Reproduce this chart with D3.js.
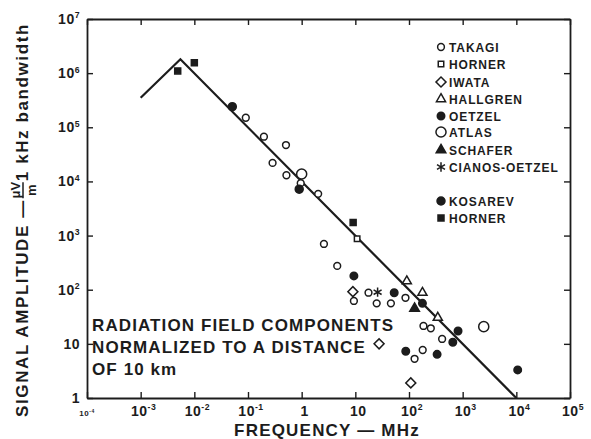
<!DOCTYPE html>
<html>
<head>
<meta charset="utf-8">
<script src="https://cdn.jsdelivr.net/npm/d3@7"></script>
<style>
  body { margin: 0; background: #fff; }
  text { font-family: "Liberation Sans", Arial, sans-serif; font-weight: bold; fill: #1c1c1c; }
</style>
</head>
<body>
<div id="chart"></div>
<script>
// frequency (MHz), amplitude (uV/m per 1 kHz)
var takagi = [[0.091,1.5e5],[0.198,6.7e4],[0.51,4.7e4],[0.287,2.2e4],[0.52,1.3e4],[0.96,9.3e3],
  [2.03,5.9e3],[2.6,700],[4.6,275],[9.4,62],[17.6,88],[25,56],[46,56],[86,71],[186,21.4],
  [255,19.4],[414,12.3],[180,7.7],[127,5.3]];
var hornerOpen = [[10.8,870]];
var iwata = [[9,92],[27.7,10],[108,1.9]];
var hallgren = [[91,144],[178,88],[344,30.5]];
var oetzel = [[9.4,180],[53,88],[178,56],[820,17.3],[655,10.7],[87,7.3],[334,6.4],[1.06e4,3.3]];
var atlas = [[1,1.37e4],[2470,20.8]];
var schafer = [[127,45]];
var cianos = [[26,90]];
var kosarev = [[0.051,2.4e5],[0.9,7.2e3]];
var hornerFilled = [[4.9e-3,1.1e6],[1e-2,1.55e6],[9.1,1.74e3]];

// normalized envelope line
var envelope = [[1e-3,3.5e5],[5.5e-3,1.8e6],[1e4,1]];

var xTicks = [1e-4,1e-3,1e-2,1e-1,1,10,1e2,1e3,1e4,1e5];
var xTickLabels = [["10","-4"],["10","-3"],["10","-2"],["10","-1"],["1",""],["10",""],["10","2"],["10","3"],["10","4"],["10","5"]];
var yTicks = [1,10,1e2,1e3,1e4,1e5,1e6,1e7];
var yTickLabels = [["1",""],["10",""],["10","2"],["10","3"],["10","4"],["10","5"],["10","6"],["10","7"]];

var legendNames = ["TAKAGI","HORNER","IWATA","HALLGREN","OETZEL","ATLAS","SCHAFER","CIANOS-OETZEL","KOSAREV","HORNER"];

var ink = "#1c1c1c";
var svgWidth = 591, svgHeight = 439;
var svg = d3.select("#chart").append("svg").attr("width", svgWidth).attr("height", svgHeight);

var plotLeft = 87, plotRight = 570, plotTop = 19, plotBottom = 398;
var x = d3.scaleLog().domain([1e-4, 1e5]).range([plotLeft, plotRight]);
var y = d3.scaleLog().domain([1, 1e7]).range([plotBottom, plotTop]);

// frame with inward ticks on every side
function axisStyle(g) {
  g.select(".domain").attr("stroke", ink).attr("stroke-width", 1.8);
  g.selectAll(".tick line").attr("stroke", ink).attr("stroke-width", 1.4);
}
svg.append("g").attr("transform", `translate(0,${plotBottom})`)
  .call(d3.axisBottom(x).tickValues(xTicks).tickFormat("").tickSizeInner(-6).tickSizeOuter(0)).call(axisStyle);
svg.append("g").attr("transform", `translate(0,${plotTop})`)
  .call(d3.axisTop(x).tickValues(xTicks).tickFormat("").tickSizeInner(-6).tickSizeOuter(0)).call(axisStyle);
svg.append("g").attr("transform", `translate(${plotLeft},0)`)
  .call(d3.axisLeft(y).tickValues(yTicks).tickFormat("").tickSizeInner(-6).tickSizeOuter(0)).call(axisStyle);
svg.append("g").attr("transform", `translate(${plotRight},0)`)
  .call(d3.axisRight(y).tickValues(yTicks).tickFormat("").tickSizeInner(-6).tickSizeOuter(0)).call(axisStyle);

// tick labels with superscripts
function addLabel(t, lab, size) {
  t.append("tspan").text(lab[0]).style("font-size", size + "px");
  if (lab[1]) t.append("tspan").text(lab[1]).attr("dy", -size * 0.4).style("font-size", (size * 0.62) + "px");
}
xTicks.forEach(function(v, i) {
  var t = svg.append("text").attr("x", x(v) + (i == 0 ? 0 : 3)).attr("y", 416).attr("text-anchor", "middle")
    .style("letter-spacing", "0.5px");
  addLabel(t, xTickLabels[i], i == 0 ? 8 : 14);
});
yTicks.forEach(function(v, i) {
  var t = svg.append("text").attr("x", 80).attr("y", y(v) + 5).attr("text-anchor", "end")
    .style("letter-spacing", "0.5px");
  addLabel(t, yTickLabels[i], 14);
});

// axis titles
svg.append("text").attr("x", 327).attr("y", 436).attr("text-anchor", "middle")
  .style("font-size", "17px").style("letter-spacing", "1.2px").text("FREQUENCY \u2014 MHz");

var yt = svg.append("g").attr("transform", "translate(28,220) rotate(-90)");
var p1 = yt.append("text").style("font-size", "17px").style("letter-spacing", "1.6px").text("SIGNAL AMPLITUDE \u2014 ");
var w1 = p1.node().getComputedTextLength();
var num = yt.append("text").style("font-size", "13px").attr("text-anchor", "middle").text("\u03bcV");
var den = yt.append("text").style("font-size", "13px").attr("text-anchor", "middle").text("m");
var p2 = yt.append("text").style("font-size", "17px").style("letter-spacing", "1.6px").text(" 1 kHz bandwidth");
var w2 = p2.node().getComputedTextLength();
var fw = 18;
var total = w1 + fw + w2;
var x0 = -total / 2;
p1.attr("x", x0);
num.attr("x", x0 + w1 + fw / 2).attr("y", -8);
den.attr("x", x0 + w1 + fw / 2).attr("y", 8);
yt.append("line").attr("x1", x0 + w1 + 1).attr("x2", x0 + w1 + fw - 1).attr("y1", -5).attr("y2", -5)
  .attr("stroke", ink).attr("stroke-width", 1.5);
p2.attr("x", x0 + w1 + fw);

// envelope line
var line = d3.line().x(d => x(d[0])).y(d => y(d[1]));
svg.append("path").datum(envelope).attr("d", line)
  .attr("fill", "none").attr("stroke", ink).attr("stroke-width", 2.2);

// marker shapes (diamond = square turned 45 degrees)
var markers = [
  {data: takagi, shape: d3.symbolCircle, size: 36, fill: false},
  {data: hornerOpen, shape: d3.symbolSquare, size: 30, fill: false},
  {data: iwata, shape: d3.symbolSquare, size: 50, fill: false, turn: 45},
  {data: hallgren, shape: d3.symbolTriangle, size: 36, fill: false},
  {data: oetzel, shape: d3.symbolCircle, size: 44, fill: true},
  {data: atlas, shape: d3.symbolCircle, size: 80, fill: false},
  {data: schafer, shape: d3.symbolTriangle, size: 40, fill: true},
  {data: cianos, shape: d3.symbolAsterisk, size: 60, fill: false},
  {data: kosarev, shape: d3.symbolCircle, size: 50, fill: true},
  {data: hornerFilled, shape: d3.symbolSquare, size: 36, fill: true}
];

function drawMark(g, m) {
  g.append("path").attr("d", d3.symbol().type(m.shape).size(m.size)())
    .attr("transform", m.turn ? `rotate(${m.turn})` : null)
    .attr("fill", m.fill ? ink : "#fff").attr("stroke", ink).attr("stroke-width", 1.5);
}

markers.forEach(function(m) {
  m.data.forEach(function(d) {
    var g = svg.append("g").attr("transform", `translate(${x(d[0])},${y(d[1])})`);
    drawMark(g, m);
  });
});

// legend
var legendY = [47, 64, 82, 99, 116, 132, 150, 167, 201, 218];
markers.forEach(function(m, i) {
  var g = svg.append("g").attr("transform", `translate(441,${legendY[i]})`);
  drawMark(g, m);
  g.append("text").attr("x", 8).attr("y", 4.5).style("font-size", "12px").style("letter-spacing", "0.9px").text(legendNames[i]);
});

// annotation
var note = ["RADIATION FIELD COMPONENTS", "NORMALIZED TO A DISTANCE", "OF 10 km"];
note.forEach(function(s, i) {
  svg.append("text").attr("x", 92).attr("y", 331 + i * 22).style("font-size", "17px")
    .style("letter-spacing", "1.1px").text(s);
});
</script>
</body>
</html>
